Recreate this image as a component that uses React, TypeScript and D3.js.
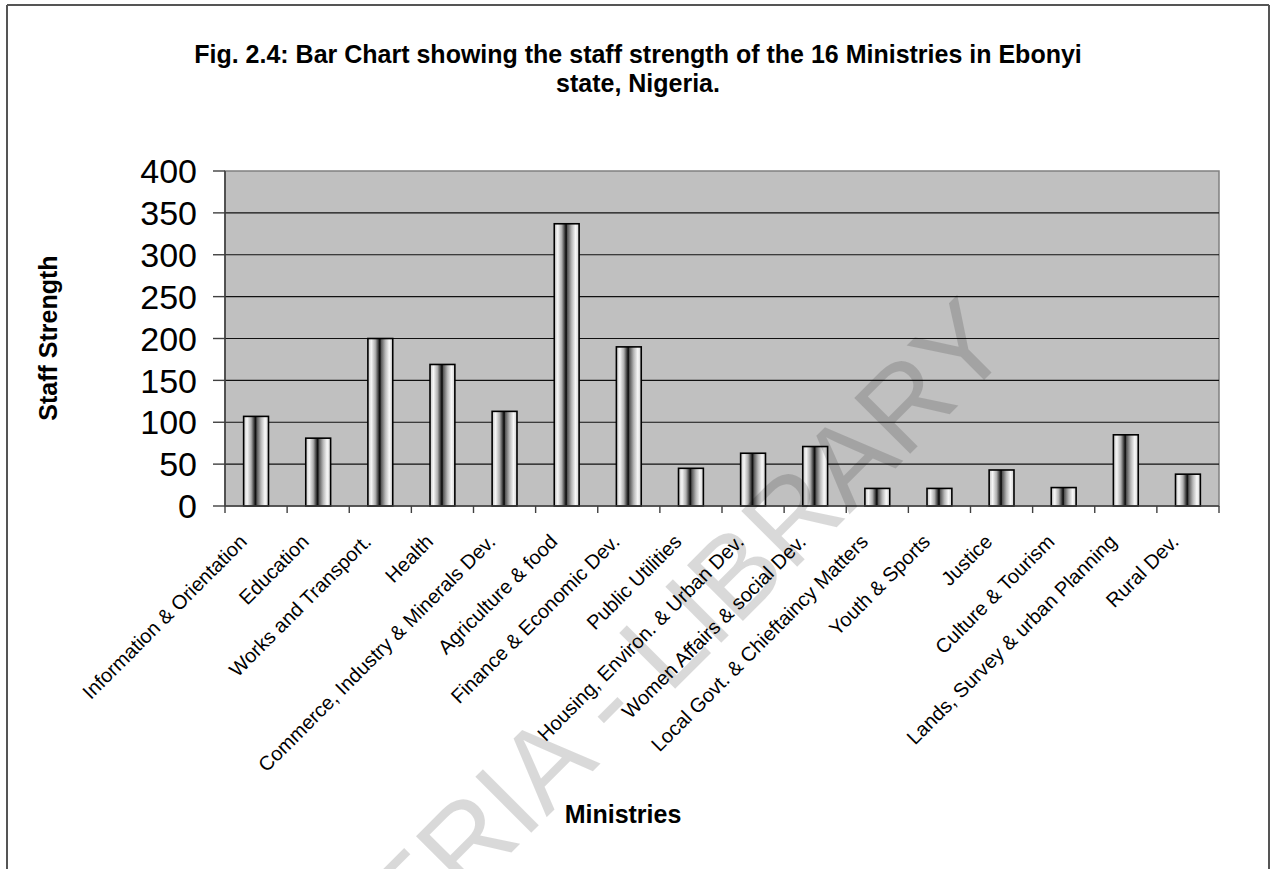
import React from "react";
import * as d3 from "d3";

// Staff strength per ministry, Ebonyi State
const ministries: string[] = [
  "Information & Orientation",
  "Education",
  "Works and Transport.",
  "Health",
  "Commerce, Industry & Minerals Dev.",
  "Agriculture & food",
  "Finance & Economic Dev.",
  "Public Utilities",
  "Housing, Environ. & Urban Dev.",
  "Women Affairs & social Dev.",
  "Local Govt. & Chieftaincy Matters",
  "Youth & Sports",
  "Justice",
  "Culture & Tourism",
  "Lands, Survey & urban Planning",
  "Rural Dev.",
];

const staffStrength: number[] = [107, 81, 200, 169, 113, 337, 190, 45, 63, 71, 21, 21, 43, 22, 85, 38];

const yTicks: number[] = [0, 50, 100, 150, 200, 250, 300, 350, 400];

const titleLines: string[] = [
  "Fig. 2.4: Bar Chart showing the staff strength of the 16 Ministries in Ebonyi",
  "state, Nigeria.",
];

const W = 1274;
const H = 869;
const FONT = "'Liberation Sans', Arial, Helvetica, sans-serif";

export default function App() {
  const plot = { left: 225, right: 1219, top: 171, bottom: 506 };

  const x = d3
    .scaleBand<string>()
    .domain(ministries)
    .range([plot.left, plot.right])
    .paddingInner(0.6)
    .paddingOuter(0.3);

  const y = d3.scaleLinear().domain([0, 400]).range([plot.bottom, plot.top]);

  const step = x.step();
  const boundaries = d3.range(ministries.length + 1).map((i) => plot.left + i * step);

  return (
    <div style={{ position: "absolute", left: 0, top: 0 }}>
      <svg width={W} height={H} style={{ display: "block", background: "#fff" }}>
        <defs>
          <linearGradient id="barShade" x1="0" x2="1" y1="0" y2="0">
            <stop offset="0" stopColor="#c4c4c4" />
            <stop offset="0.14" stopColor="#f6f6f6" />
            <stop offset="0.3" stopColor="#b0b0b0" />
            <stop offset="0.47" stopColor="#101010" />
            <stop offset="0.5" stopColor="#1a1a1a" />
            <stop offset="0.53" stopColor="#555" />
            <stop offset="0.7" stopColor="#b8b8b8" />
            <stop offset="0.86" stopColor="#f8f8f8" />
            <stop offset="1" stopColor="#cfcfcf" />
          </linearGradient>
        </defs>

        {/* outer chart frame */}
        <line x1={7} y1={5} x2={1269} y2={5} stroke="#555" strokeWidth={2} />
        <line x1={7} y1={5} x2={7} y2={H} stroke="#555" strokeWidth={2} />
        <line x1={1269} y1={5} x2={1269} y2={H} stroke="#555" strokeWidth={2} />

        {/* title */}
        {titleLines.map((t, i) => (
          <text
            key={t}
            x={638}
            y={63 + i * 29}
            textAnchor="middle"
            fontFamily={FONT}
            fontWeight="bold"
            fontSize={25}
            fill="#000"
          >
            {t}
          </text>
        ))}

        {/* plot area */}
        <rect
          x={plot.left}
          y={plot.top}
          width={plot.right - plot.left}
          height={plot.bottom - plot.top}
          fill="#c0c0c0"
          stroke="#808080"
          strokeWidth={1.5}
        />

        {/* gridlines */}
        {yTicks
          .filter((t) => t > 0 && t < 400)
          .map((t) => (
            <line
              key={"g" + t}
              x1={plot.left}
              x2={plot.right}
              y1={y(t)}
              y2={y(t)}
              stroke="#111"
              strokeWidth={1.2}
            />
          ))}

        {/* bars */}
        {ministries.map((m, i) => (
          <rect
            key={m}
            x={x(m)}
            y={y(staffStrength[i])}
            width={x.bandwidth()}
            height={plot.bottom - y(staffStrength[i])}
            fill="url(#barShade)"
            stroke="#000"
            strokeWidth={1.6}
          />
        ))}

        {/* axes */}
        <line x1={plot.left} x2={plot.left} y1={plot.top} y2={plot.bottom} stroke="#404040" strokeWidth={1.6} />
        <line x1={plot.left} x2={plot.right} y1={plot.bottom} y2={plot.bottom} stroke="#404040" strokeWidth={1.6} />

        {/* y ticks and labels */}
        {yTicks.map((t) => (
          <g key={"y" + t}>
            <line x1={plot.left - 12} x2={plot.left} y1={y(t)} y2={y(t)} stroke="#404040" strokeWidth={1.4} />
            <text
              x={197}
              y={y(t)}
              dy="0.36em"
              textAnchor="end"
              fontFamily={FONT}
              fontSize={34}
              fill="#000"
            >
              {t}
            </text>
          </g>
        ))}

        {/* x ticks */}
        {boundaries.map((bx, i) => (
          <line key={"xt" + i} x1={bx} x2={bx} y1={plot.bottom} y2={plot.bottom + 7} stroke="#404040" strokeWidth={1.4} />
        ))}

        {/* category labels */}
        {ministries.map((m) => {
          const cx = (x(m) as number) + x.bandwidth() / 2 - 8;
          const cy = plot.bottom + 37;
          return (
            <text
              key={"l" + m}
              transform={`translate(${cx},${cy}) rotate(-45)`}
              textAnchor="end"
              fontFamily={FONT}
              fontSize={20}
              fill="#000"
            >
              {m}
            </text>
          );
        })}

        {/* axis titles */}
        <text
          transform="translate(57,338) rotate(-90)"
          textAnchor="middle"
          fontFamily={FONT}
          fontWeight="bold"
          fontSize={25}
          fill="#000"
        >
          Staff Strength
        </text>
        <text x={623} y={823} textAnchor="middle" fontFamily={FONT} fontWeight="bold" fontSize={25} fill="#000">
          Ministries
        </text>

        {/* library watermark */}
        <text
          transform="translate(1015,349) rotate(-45)"
          textAnchor="end"
          fontFamily={FONT}
          fontSize={115}
          fill="#000"
          fillOpacity={0.15}
        >
          NIGERIA - LIBRARY
        </text>
      </svg>
    </div>
  );
}
